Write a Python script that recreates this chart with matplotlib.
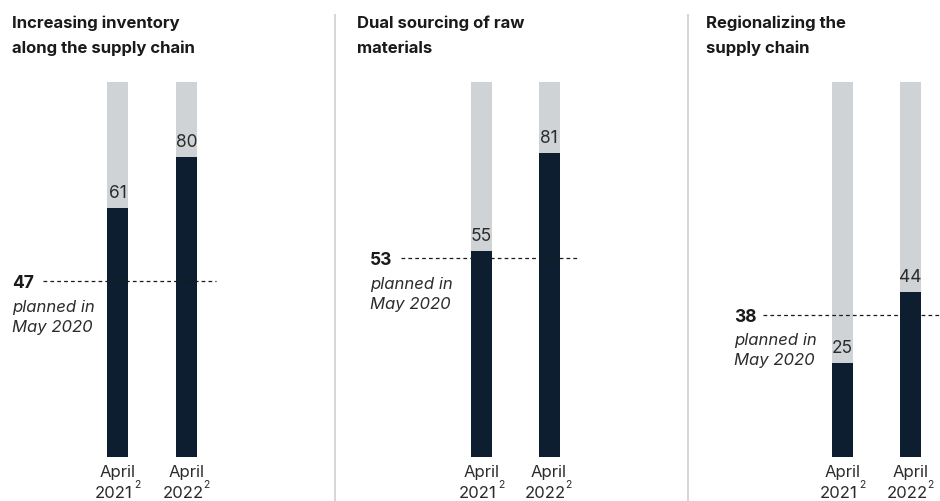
import matplotlib
matplotlib.use("Agg")
import matplotlib.pyplot as plt

# ---- data ----
titles = ["Increasing inventory\nalong the supply chain",
          "Dual sourcing of raw\nmaterials",
          "Regionalizing the\nsupply chain"]
planned_2020 = [47, 53, 38]
bar_2021 = [66.5, 55, 25]          # bar heights as drawn in the picture
label_2021 = ["61", "55", "25"]
bar_2022 = [80, 81, 44]
label_2022 = ["80", "81", "44"]
period_months = ["April", "April"]
period_years = ["2021", "2022"]
footnote_mark = "2"
full_scale = 100

# ---- style ----
NAVY = "#0c1e2f"
GREY = "#d0d3d6"
TEXT = "#1a1a1a"
NUM = "#2b2b2b"
SEP = "#cfcfcf"
FONT = "Inter"

W, H = 940, 502
fig = plt.figure(figsize=(W / 100, H / 100), dpi=100)
ax = fig.add_axes([0, 0, 1, 1])

# pixel mapping: value 0 at y=458px, value 100 at y=83px
PX_PER_UNIT = (458 - 83) / 100.0
def vy(py):
    return (458 - py) / PX_PER_UNIT

ax.set_xlim(0, W)
ax.set_ylim(vy(H), vy(0))
ax.axis("off")

panel_left = [12, 357, 706]
bar_x = [(117.5, 186.5), (481.5, 549.0), (842.5, 910.5)]
dash_x = [(43, 216), (401, 578), (763, 940)]
num_x = [12, 370, 734]
bw = 21

for sx in (335, 688):
    ax.plot([sx, sx], [vy(15), vy(H)], color=SEP, lw=1.2, solid_capstyle="butt")

for i in range(3):
    ax.text(panel_left[i], vy(28), titles[i].split("\n")[0], ha="left", va="baseline",
            fontsize=12, fontweight="bold", family=FONT, color=TEXT)
    ax.text(panel_left[i], vy(53), titles[i].split("\n")[1], ha="left", va="baseline",
            fontsize=12, fontweight="bold", family=FONT, color=TEXT)
    x1, x2 = bar_x[i]
    ax.bar([x1, x2], [full_scale, full_scale], width=bw, color=GREY, bottom=0)
    ax.bar([x1, x2], [bar_2021[i], bar_2022[i]], width=bw, color=NAVY)
    for x, v, lab in ((x1, bar_2021[i], label_2021[i]), (x2, bar_2022[i], label_2022[i])):
        ax.text(x, v + 1.9, lab, ha="center", va="bottom", fontsize=12.5,
                family=FONT, color=NUM)
    for x, mon, yr in zip((x1, x2), period_months, period_years):
        ax.text(x, vy(477), mon, ha="center", va="baseline", fontsize=12,
                family=FONT, color=NUM)
        ax.text(x - 3.5, vy(498), yr, ha="center", va="baseline", fontsize=12,
                family=FONT, color=NUM)
        ax.text(x + 16.5, vy(488), footnote_mark, ha="left", va="baseline",
                fontsize=7.5, family=FONT, color=NUM)
    # planned line
    d0, d1 = dash_x[i]
    ax.plot([d0, d1], [planned_2020[i]] * 2, color=TEXT, lw=0.9,
            dashes=(3, 2.5), zorder=5)
    base = 458 - planned_2020[i] * PX_PER_UNIT
    ax.text(num_x[i], vy(base + 6), str(planned_2020[i]), ha="left",
            va="baseline", fontsize=12.5, fontweight="bold", family=FONT, color=TEXT)
    ax.text(num_x[i], vy(base + 30), "planned in", ha="left",
            va="baseline", fontsize=12, style="italic", family=FONT, color=NUM)
    ax.text(num_x[i], vy(base + 50), "May 2020", ha="left",
            va="baseline", fontsize=12, style="italic", family=FONT, color=NUM)

fig.savefig("out.png", dpi=100)
